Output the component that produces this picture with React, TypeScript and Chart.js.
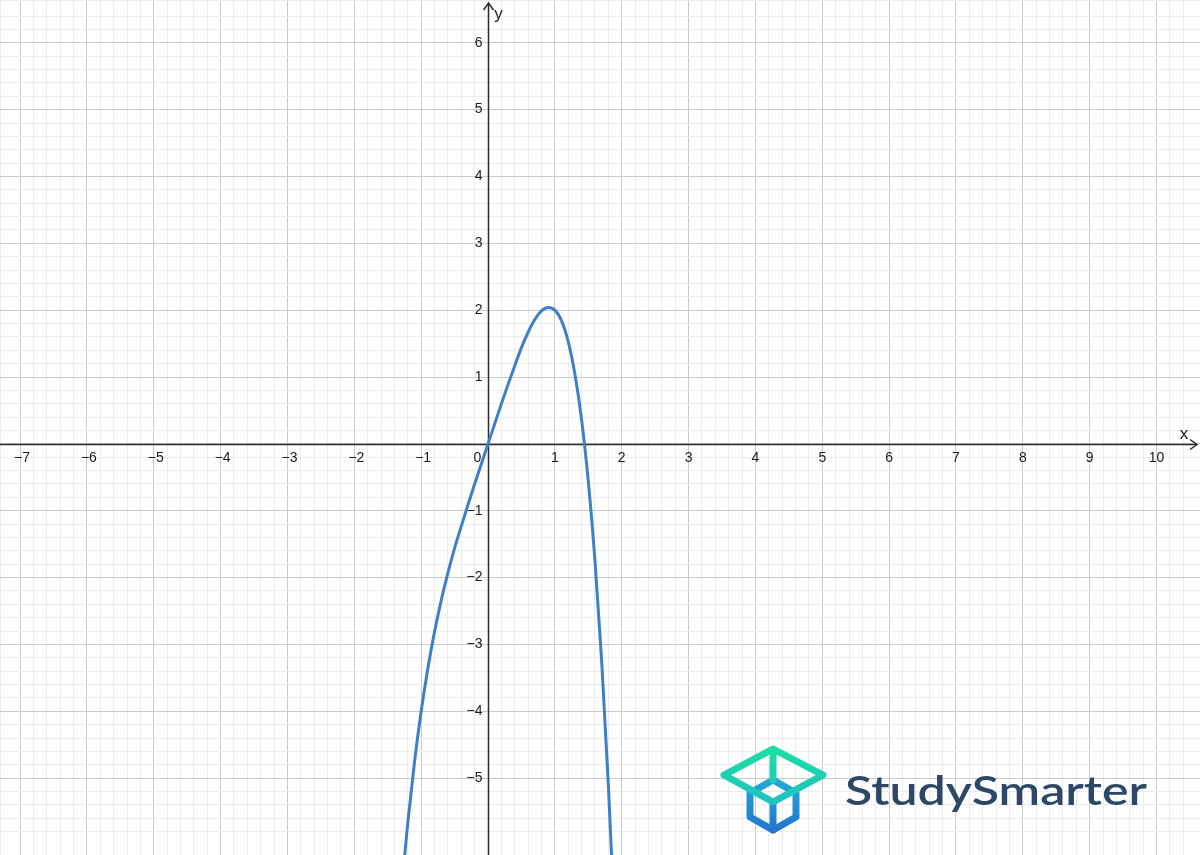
import React, { useEffect, useRef } from "react";
import { Chart, registerables } from "chart.js";

Chart.register(...registerables);

// Axis window
const X_MIN = -7.3;
const X_MAX = 10.65;
const Y_MIN = -6.15;
const Y_MAX = 6.64;

// Curve points
const curveX = [-1.25, -1.2, -1.1, -1.0, -0.9, -0.8, -0.7, -0.6, -0.5, -0.4, -0.3, -0.2, -0.1, 0, 0.1, 0.2, 0.3, 0.4, 0.5, 0.6, 0.7, 0.8, 0.9, 1.0, 1.1, 1.2, 1.3, 1.4, 1.5, 1.6, 1.7, 1.8, 1.9];
const curveY = [-6.19, -5.67, -4.76, -4.0, -3.36, -2.81, -2.34, -1.93, -1.56, -1.23, -0.91, -0.6, -0.3, 0, 0.3, 0.6, 0.89, 1.17, 1.44, 1.67, 1.86, 1.99, 2.04, 2.0, 1.84, 1.53, 1.04, 0.36, -0.56, -1.75, -3.25, -5.1, -7.33];

// Tick labels
const xTickValues = [-7, -6, -5, -4, -3, -2, -1, 1, 2, 3, 4, 5, 6, 7, 8, 9, 10];
const xTickLabels = ["−7", "−6", "−5", "−4", "−3", "−2", "−1", "1", "2", "3", "4", "5", "6", "7", "8", "9", "10"];
const yTickValues = [-5, -4, -3, -2, -1, 1, 2, 3, 4, 5, 6];
const yTickLabels = ["−5", "−4", "−3", "−2", "−1", "1", "2", "3", "4", "5", "6"];
const originLabel = "0";
const xAxisName = "x";
const yAxisName = "y";
const brandName = "StudySmarter";

const isMajor = (v: number) => Math.abs(v - Math.round(v)) < 1e-6;

const gridColor = (ctx: any) => {
  const v = ctx.tick ? ctx.tick.value : 0.5;
  return isMajor(v) ? "#cacaca" : "#ececec";
};

const overlayPlugin = {
  id: "overlay",
  beforeDatasetsDraw(chart: any) {
    const ctx = chart.ctx as CanvasRenderingContext2D;
    const xs = chart.scales.x;
    const ys = chart.scales.y;
    const x0 = Math.round(xs.getPixelForValue(0)) + 0.5;
    const y0 = Math.round(ys.getPixelForValue(0)) + 0.5;
    const W = chart.width;
    const H = chart.height;
    ctx.save();
    ctx.strokeStyle = "#2b2b2b";
    ctx.lineWidth = 1.5;
    // x axis
    ctx.beginPath();
    ctx.moveTo(0, y0);
    ctx.lineTo(W - 3, y0);
    ctx.stroke();
    ctx.beginPath();
    ctx.moveTo(W - 10, y0 - 5);
    ctx.lineTo(W - 3, y0);
    ctx.lineTo(W - 10, y0 + 5);
    ctx.stroke();
    // y axis
    ctx.beginPath();
    ctx.moveTo(x0, H);
    ctx.lineTo(x0, 3);
    ctx.stroke();
    ctx.beginPath();
    ctx.moveTo(x0 - 5, 10);
    ctx.lineTo(x0, 3);
    ctx.lineTo(x0 + 5, 10);
    ctx.stroke();

    // tick labels
    ctx.fillStyle = "#1a1a1a";
    ctx.font = "14px 'Liberation Sans', Arial, sans-serif";
    ctx.textBaseline = "middle";
    ctx.textAlign = "center";
    xTickValues.forEach((v, i) => {
      const px = xs.getPixelForValue(v);
      ctx.fillText(xTickLabels[i], px + (v < 0 ? 2 : 0), y0 + 14);
    });
    ctx.textAlign = "right";
    yTickValues.forEach((v, i) => {
      const py = ys.getPixelForValue(v);
      ctx.fillText(yTickLabels[i], x0 - 6, py);
    });
    ctx.textAlign = "center";
    ctx.fillText(originLabel, x0 - 11, y0 + 14);

    // axis names
    ctx.font = "17px 'Liberation Sans', Arial, sans-serif";
    ctx.fillText(xAxisName, W - 16, y0 - 10);
    ctx.fillText(yAxisName, x0 + 10, 14);
    ctx.restore();
  },
  afterDraw(chart: any) {
    const ctx = chart.ctx as CanvasRenderingContext2D;
    ctx.save();
    // logo icon
    ctx.lineJoin = "round";
    ctx.lineCap = "round";
    ctx.lineWidth = 7;
    const cube = ctx.createLinearGradient(0, 782, 0, 832);
    cube.addColorStop(0, "#22a8d6");
    cube.addColorStop(1, "#2473cf");
    ctx.strokeStyle = cube;
    ctx.beginPath();
    ctx.moveTo(773, 780);
    ctx.lineTo(796, 793);
    ctx.lineTo(796, 817);
    ctx.lineTo(773, 830);
    ctx.lineTo(750, 817);
    ctx.lineTo(750, 793);
    ctx.closePath();
    ctx.stroke();
    ctx.beginPath();
    ctx.moveTo(773, 802);
    ctx.lineTo(773, 830);
    ctx.stroke();
    const cap = ctx.createLinearGradient(0, 748, 0, 804);
    cap.addColorStop(0, "#1adfa2");
    cap.addColorStop(1, "#1fc2c2");
    ctx.strokeStyle = cap;
    ctx.beginPath();
    ctx.moveTo(773, 749);
    ctx.lineTo(823, 775);
    ctx.lineTo(773, 802);
    ctx.lineTo(724, 775);
    ctx.closePath();
    ctx.stroke();
    ctx.beginPath();
    ctx.moveTo(773, 750);
    ctx.lineTo(773, 780);
    ctx.stroke();

    // brand text
    ctx.fillStyle = "#2c4767";
    ctx.font = "600 40px Lato, 'Open Sans', sans-serif";
    ctx.textAlign = "left";
    ctx.textBaseline = "alphabetic";
    const w = ctx.measureText(brandName).width;
    const target = 302;
    ctx.translate(845, 805);
    ctx.scale(target / w, 1);
    ctx.fillText(brandName, 0, 0);
    ctx.restore();
  },
};

export default function App() {
  const ref = useRef<HTMLCanvasElement>(null);
  useEffect(() => {
    document.body.style.margin = "0";
    const canvas = ref.current!;
    const chart = new Chart(canvas, {
      type: "line",
      data: {
        datasets: [
          {
            data: curveX.map((x, i) => ({ x, y: curveY[i] })),
            borderColor: "#3f7fc6",
            borderWidth: 3,
            pointRadius: 0,
            fill: false,
            cubicInterpolationMode: "monotone",
          },
        ],
      },
      options: {
        animation: false,
        responsive: false,
        events: [],
        layout: { padding: 0 },
        plugins: { legend: { display: false }, tooltip: { enabled: false } },
        scales: {
          x: {
            type: "linear",
            min: X_MIN,
            max: X_MAX,
            ticks: { display: false, stepSize: 0.2 },
            grid: { color: gridColor, lineWidth: 1, drawTicks: false },
            border: { display: false },
          },
          y: {
            type: "linear",
            min: Y_MIN,
            max: Y_MAX,
            ticks: { display: false, stepSize: 0.2 },
            grid: { color: gridColor, lineWidth: 1, drawTicks: false },
            border: { display: false },
          },
        },
      },
      plugins: [overlayPlugin],
    });
    return () => chart.destroy();
  }, []);
  return (
    <div style={{ position: "absolute", left: 0, top: 0, width: 1200, height: 855, background: "#ffffff" }}>
      <canvas ref={ref} width={1200} height={855} style={{ display: "block" }} />
    </div>
  );
}
